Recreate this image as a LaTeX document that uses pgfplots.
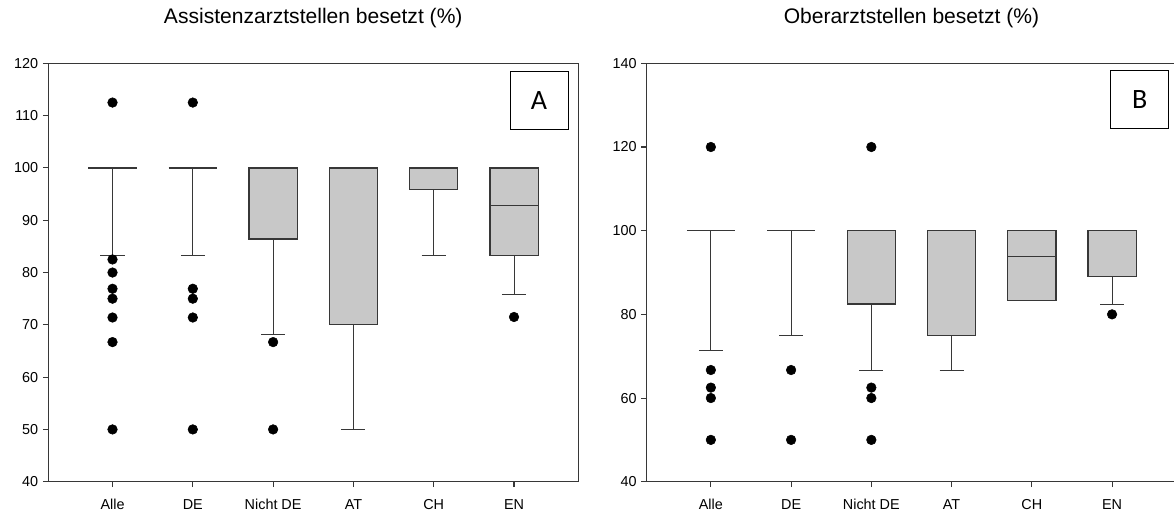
\documentclass[border=0pt]{standalone}
\usepackage{fontspec}
\setmainfont{Liberation Sans}
\newfontfamily\calib{Carlito}
\usepackage{pgfplots}
\pgfplotsset{compat=1.18}

\definecolor{boxfill}{RGB}{200,200,200}
\definecolor{linegray}{RGB}{55,55,55}

\pgfplotsset{
  myaxis/.style={
    scale only axis, height=313.8pt,
    xmin=-0.8, xmax=5.8,
    xtick={0,...,5}, xticklabels={Alle,DE,Nicht DE,AT,CH,EN},
    tick align=outside, major tick length=4pt,
    xtick pos=left, ytick pos=left,
    axis line style={linegray, line width=0.8pt},
    every tick/.style={linegray, line width=0.8pt},
    ticklabel style={font=\fontsize{10.8}{13}\selectfont},
    xticklabel style={anchor=base, yshift=-16.5pt},
    /pgf/number format/assume math mode=true,
    title style={font=\fontsize{15.8}{19}\selectfont, at={(0.5,1)}, anchor=base, yshift=24pt},
    clip=false,
  },
  wh/.style={draw=linegray, line width=0.75pt, no markers},
  bx/.style={draw=linegray, fill=boxfill, line width=0.9pt, no markers},
  md/.style={draw=linegray, line width=0.9pt, no markers},
  out/.style={only marks, mark=*, mark size=3.6pt, mark options={fill=black, draw=black}},
}

\begin{document}
\begin{tikzpicture}
% ---------------- Panel A ----------------
\begin{axis}[myaxis, at={(0,0)}, anchor=south west, width=397.5pt,
  ymin=40, ymax=120, ytick={40,50,...,120},
  title={Assistenzarztstellen besetzt (\%)}]
% whiskers
\addplot[wh] coordinates {(0,100) (0,83.3)};
\addplot[wh] coordinates {(-0.15,83.3) (0.15,83.3)};
\addplot[wh] coordinates {(1,100) (1,83.3)};
\addplot[wh] coordinates {(0.85,83.3) (1.15,83.3)};
\addplot[wh] coordinates {(2,86.4) (2,68.2)};
\addplot[wh] coordinates {(1.85,68.2) (2.15,68.2)};
\addplot[wh] coordinates {(3,70) (3,50)};
\addplot[wh] coordinates {(2.85,50) (3.15,50)};
\addplot[wh] coordinates {(4,95.8) (4,83.3)};
\addplot[wh] coordinates {(3.85,83.3) (4.15,83.3)};
\addplot[wh] coordinates {(5,83.3) (5,75.8)};
\addplot[wh] coordinates {(4.85,75.8) (5.15,75.8)};
% boxes
\addplot[md] coordinates {(-0.3,100) (0.3,100)};
\addplot[md] coordinates {(0.7,100) (1.3,100)};
\addplot[bx] coordinates {(1.7,86.4) (2.3,86.4) (2.3,100) (1.7,100)} --cycle;
\addplot[bx] coordinates {(2.7,70) (3.3,70) (3.3,100) (2.7,100)} --cycle;
\addplot[bx] coordinates {(3.7,95.8) (4.3,95.8) (4.3,100) (3.7,100)} --cycle;
\addplot[bx] coordinates {(4.7,83.3) (5.3,83.3) (5.3,100) (4.7,100)} --cycle;
\addplot[md] coordinates {(4.7,92.8) (5.3,92.8)};
% outliers
\addplot[out] coordinates {(0,112.5) (0,82.5) (0,80) (0,76.9) (0,75) (0,71.4) (0,66.7) (0,50)};
\addplot[out] coordinates {(1,112.5) (1,76.9) (1,75) (1,71.4) (1,50)};
\addplot[out] coordinates {(2,66.7) (2,50)};
\addplot[out] coordinates {(5,71.5)};
\node[draw=black, line width=0.75pt, fill=white, minimum width=43.5pt, minimum height=43.5pt,
  inner sep=0pt, font=\calib\fontsize{21}{24}\selectfont] at (rel axis cs:0.926,0.910) {A};
\end{axis}

% ---------------- Panel B ----------------
\begin{axis}[myaxis, at={(448.8pt,0)}, anchor=south west, width=397.2pt,
  ymin=40, ymax=140, ytick={40,60,...,140},
  title={Oberarztstellen besetzt (\%)}]
% whiskers
\addplot[wh] coordinates {(0,100) (0,71.4)};
\addplot[wh] coordinates {(-0.15,71.4) (0.15,71.4)};
\addplot[wh] coordinates {(1,100) (1,75)};
\addplot[wh] coordinates {(0.85,75) (1.15,75)};
\addplot[wh] coordinates {(2,82.5) (2,66.7)};
\addplot[wh] coordinates {(1.85,66.7) (2.15,66.7)};
\addplot[wh] coordinates {(3,75) (3,66.7)};
\addplot[wh] coordinates {(2.85,66.7) (3.15,66.7)};
\addplot[wh] coordinates {(5,89) (5,82.4)};
\addplot[wh] coordinates {(4.85,82.4) (5.15,82.4)};
% boxes
\addplot[md] coordinates {(-0.3,100) (0.3,100)};
\addplot[md] coordinates {(0.7,100) (1.3,100)};
\addplot[bx] coordinates {(1.7,82.5) (2.3,82.5) (2.3,100) (1.7,100)} --cycle;
\addplot[bx] coordinates {(2.7,75) (3.3,75) (3.3,100) (2.7,100)} --cycle;
\addplot[bx] coordinates {(3.7,83.3) (4.3,83.3) (4.3,100) (3.7,100)} --cycle;
\addplot[md] coordinates {(3.7,93.75) (4.3,93.75)};
\addplot[bx] coordinates {(4.7,89) (5.3,89) (5.3,100) (4.7,100)} --cycle;
% outliers
\addplot[out] coordinates {(0,120) (0,66.7) (0,62.5) (0,60) (0,50)};
\addplot[out] coordinates {(1,66.7) (1,50)};
\addplot[out] coordinates {(2,120) (2,62.5) (2,60) (2,50)};
\addplot[out] coordinates {(5,80)};
\node[draw=black, line width=0.75pt, fill=white, minimum width=43.5pt, minimum height=43.5pt,
  inner sep=0pt, font=\calib\fontsize{21}{24}\selectfont] at (rel axis cs:0.931,0.914) {B};
\end{axis}
\pgfresetboundingbox
\useasboundingbox (-36.2pt,-23.5pt) rectangle (844.3pt,361.3pt);
\end{tikzpicture}
\end{document}
